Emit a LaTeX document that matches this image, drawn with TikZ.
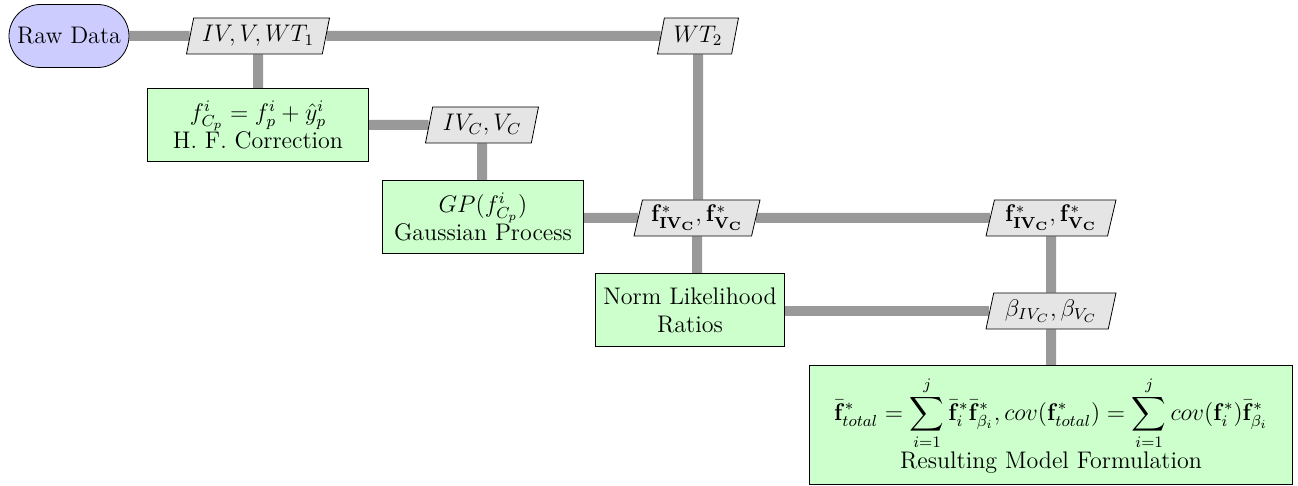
\documentclass[tikz,border=0pt]{standalone}
\usepackage{amsmath}
\usetikzlibrary{shapes.geometric,shapes.misc,backgrounds}
\begin{document}
\begin{tikzpicture}[x=0.5pt,y=-0.5pt,
  every node/.style={font=\large},
  startbox/.style={rounded rectangle, draw=black, fill=blue!20, minimum width=64pt, minimum height=31.5pt, inner sep=2pt},
  iobox/.style={trapezium, trapezium left angle=74, trapezium right angle=106, draw=black, fill=black!10, minimum height=18pt, inner xsep=0pt, inner ysep=1pt, trapezium stretches body},
  procbox/.style={rectangle, draw=black, fill=green!20, align=center, minimum height=36.5pt, inner sep=2pt},
  pipe/.style={line width=5pt, draw=black!40}]
\useasboundingbox (0,0) rectangle (1298,486);
\node[startbox] (raw) at (69,36) {Raw Data};
\node[iobox, minimum width=71.5pt] (iv) at (258,36) {$IV,V,WT_1$};
\node[iobox, minimum width=40.5pt] (wt2) at (698,36) {$WT_2$};
\node[procbox, minimum width=110.5pt] (hf) at (258,125) {$f^i_{C_p} = f^i_p + \hat{y}^i_p$\\H. F. Correction};
\node[iobox, minimum width=56.5pt] (ivc) at (482,125) {$IV_C,V_C$};
\node[procbox, minimum width=100.5pt] (gp) at (483,217) {$GP(f^i_{C_p})$\\Gaussian Process};
\node[iobox, minimum width=63pt] (fs) at (697,218) {$\mathbf{f^*_{IV_C},f^*_{V_C}}$};
\node[iobox, minimum width=65pt] (fsr) at (1051,218) {$\mathbf{f^*_{IV_C},f^*_{V_C}}$};
\node[procbox, minimum width=94.5pt] (norm) at (690,310) {Norm Likelihood\\Ratios};
\node[iobox, minimum width=65pt] (beta) at (1051,311) {$\beta_{IV_C},\beta_{V_C}$};
\node[procbox, minimum width=241.5pt, minimum height=59.5pt, inner sep=1pt] (res) at (1051,425) {$\displaystyle\bar{\mathbf{f}}^*_{total} = \sum_{i=1}^{j} \bar{\mathbf{f}}^*_i \bar{\mathbf{f}}^*_{\beta_i}, cov(\mathbf{f}^*_{total}) = \sum_{i=1}^{j} cov(\mathbf{f}^*_i)\bar{\mathbf{f}}^*_{\beta_i}$\\Resulting Model Formulation};
\begin{pgfonlayer}{background}
\draw[pipe] (raw) -- (iv);
\draw[pipe] (iv) -- (wt2);
\draw[pipe] (iv) -- (hf);
\draw[pipe] (hf.east |- ivc) -- (ivc);
\draw[pipe] (ivc) -- (ivc |- gp.north);
\draw[pipe] (wt2) -- (wt2 |- fs.north);
\draw[pipe] (gp.east |- fs) -- (fs);
\draw[pipe] (fs) -- (fsr);
\draw[pipe] (fs) -- (fs |- norm.north);
\draw[pipe] (fsr) -- (beta);
\draw[pipe] (norm.east |- beta) -- (beta);
\draw[pipe] (beta) -- (res);
\end{pgfonlayer}
\end{tikzpicture}
\end{document}
